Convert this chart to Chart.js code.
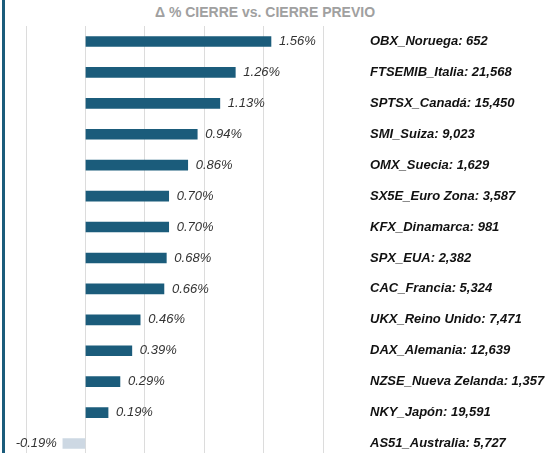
<!DOCTYPE html>
<html lang="es">
<head>
    <meta charset="UTF-8">
    <title>Cierre vs. cierre previo</title>
    <script src="https://cdn.jsdelivr.net/npm/chart.js"></script>
    <style>
        html, body {
            margin: 0;
            padding: 0;
            background: #ffffff;
            width: 553px;
            height: 453px;
            overflow: hidden;
        }
        .edge {
            position: absolute;
            left: 2px;
            top: 0;
            width: 3px;
            height: 453px;
            background: #1b5c7b;
        }
        .title {
            position: absolute;
            left: 0;
            top: 4px;
            width: 530px;
            text-align: center;
            font: bold 14px/16.8px "Liberation Sans", Arial, Helvetica, sans-serif;
            color: #a0a0a0;
            white-space: nowrap;
        }
        #chart {
            position: absolute;
            left: 6px;
            top: 0;
        }
    </style>
</head>
<body>
    <div class="edge"></div>
    <div class="title">&Delta; % CIERRE vs. CIERRE PREVIO</div>
    <canvas id="chart" width="547" height="459"></canvas>

    <script>
        // Index names, closing levels and % change vs previous close
        const indices = ['OBX_Noruega', 'FTSEMIB_Italia', 'SPTSX_Canadá', 'SMI_Suiza', 'OMX_Suecia',
            'SX5E_Euro Zona', 'KFX_Dinamarca', 'SPX_EUA', 'CAC_Francia', 'UKX_Reino Unido',
            'DAX_Alemania', 'NZSE_Nueva Zelanda', 'NKY_Japón', 'AS51_Australia'];
        const levels = ['652', '21,568', '15,450', '9,023', '1,629', '3,587', '981',
            '2,382', '5,324', '7,471', '12,639', '1,357', '19,591', '5,727'];
        const changes = [1.56, 1.26, 1.13, 0.94, 0.86, 0.70, 0.70, 0.68, 0.66, 0.46, 0.39, 0.29, 0.19, -0.19];

        const labels = indices.map((n, i) => n + ': ' + levels[i]);
        const FONT = '"Liberation Sans", Arial, Helvetica, sans-serif';

        // Value labels next to the bars
        const valueLabels = {
            id: 'valueLabels',
            afterDatasetsDraw(chart) {
                const ctx = chart.ctx;
                const meta = chart.getDatasetMeta(0);
                ctx.save();
                ctx.font = 'italic 13px ' + FONT;
                ctx.fillStyle = '#333333';
                ctx.textBaseline = 'middle';
                meta.data.forEach((bar, i) => {
                    const v = changes[i];
                    const txt = v.toFixed(2) + '%';
                    if (v >= 0) {
                        ctx.textAlign = 'left';
                        ctx.fillText(txt, bar.x + 8, bar.y);
                    } else {
                        ctx.textAlign = 'right';
                        ctx.fillText(txt, bar.x - 6, bar.y);
                    }
                });
                ctx.restore();
            }
        };

        new Chart(document.getElementById('chart'), {
            type: 'bar',
            data: {
                labels: labels,
                datasets: [{
                    data: changes,
                    backgroundColor: changes.map(v => v < 0 ? '#cdd8e3' : '#1b5c7b'),
                    barThickness: 10
                }]
            },
            options: {
                indexAxis: 'y',
                responsive: false,
                animation: false,
                layout: { padding: { left: 20, right: 0, top: 26, bottom: 0 } },
                plugins: {
                    legend: { display: false },
                    tooltip: { enabled: false },
                    title: { display: false }
                },
                scales: {
                    x: {
                        min: -0.5,
                        max: 2.0,
                        ticks: { display: false, stepSize: 0.5 },
                        border: { display: false },
                        grid: { color: '#dcdcdc', drawTicks: false }
                    },
                    y: {
                        position: 'right',
                        grid: { display: false, drawTicks: false },
                        border: { display: false },
                        ticks: {
                            crossAlign: 'near',
                            padding: 46.7,
                            color: '#111111',
                            font: { family: FONT, size: 13, weight: 'bold', style: 'italic' }
                        },
                        afterFit(scale) {
                            // fixed width so the plot ends where the reference does
                            scale.width = 229.7;
                            scale.paddingTop = 0;
                            scale.paddingBottom = 0;
                        }
                    }
                }
            },
            plugins: [valueLabels]
        });
    </script>
</body>
</html>
